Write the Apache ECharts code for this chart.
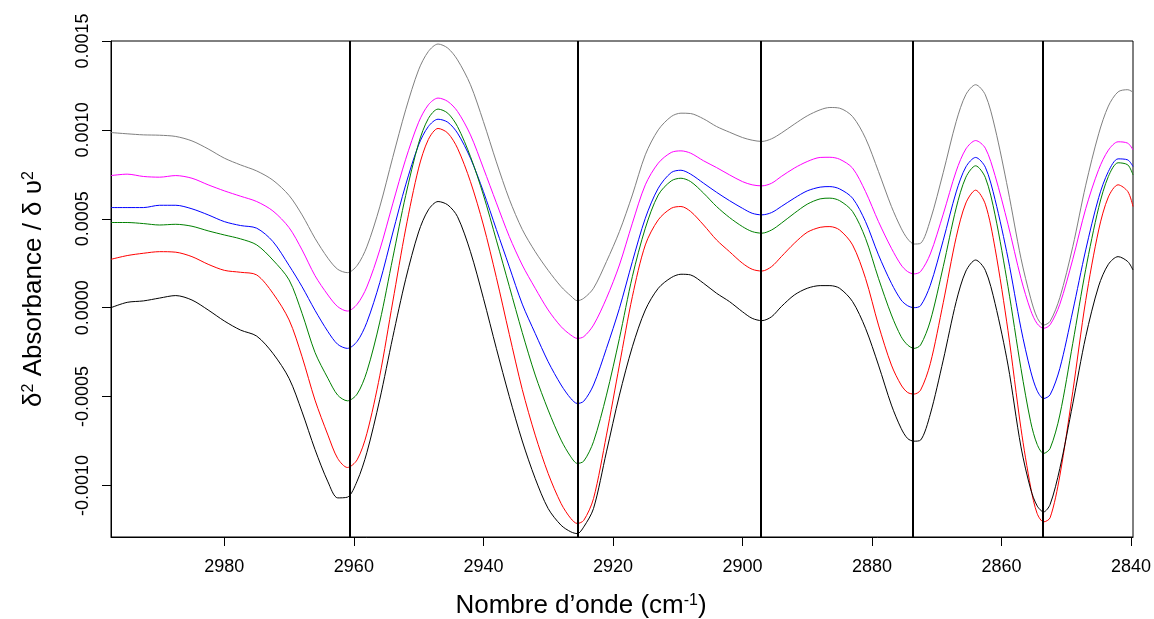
<!DOCTYPE html>
<html>
<head>
<meta charset="utf-8">
<script src="https://cdn.jsdelivr.net/npm/echarts@6/dist/echarts.min.js"></script>
<style>
  html, body { margin: 0; padding: 0; background: #fff; }
  #chart { width: 1154px; height: 619px; }
</style>
</head>
<body>
<div id="chart"></div>
<script>
// Wavenumbers (cm-1)
const wavenumbers = [
  2997.5, 2995, 2992.5, 2990, 2987.5, 2985, 2982.5, 2980, 2977.5, 2975, 2972.5, 2970, 2968, 2966,
  2964, 2962.5, 2961, 2959.5, 2958, 2956, 2954, 2952, 2950, 2948.5, 2947, 2945.5, 2944, 2942, 2940, 2938, 2936,
  2934, 2932, 2930, 2928, 2926.5, 2925.5, 2924.5, 2923, 2921, 2919, 2917, 2915, 2913, 2911, 2909.5, 2908, 2906, 2904,
  2902, 2900, 2898.5, 2897, 2895.5, 2894, 2892, 2890, 2888, 2886.5, 2885, 2883, 2881, 2879, 2877, 2875.5, 2874.5, 2873.5, 2872.5,
  2871, 2869, 2867, 2865.5, 2864, 2862.5, 2861, 2859, 2857, 2855.5, 2854.5, 2853.5, 2852.5, 2851, 2849, 2847, 2845, 2843.5, 2842, 2840.5, 2839.7
];

// Second-derivative values, in units of 1e-6
const VALUE_UNIT = 1e-6;
const grayValues = [
  985, 978, 972, 970, 963, 938, 893, 841, 803, 769, 717, 631, 522, 390,
  278, 216, 197, 237, 342, 567, 845, 1113, 1338, 1441, 1483, 1460, 1394, 1254, 1047, 820, 610,
  440, 315, 210, 118, 66, 39, 53, 109, 259, 428, 634, 860, 1000, 1075, 1094, 1092, 1062, 1019,
  987, 957, 942, 935, 950, 982, 1032, 1079, 1113, 1126, 1122, 1075, 953, 766, 569, 447, 387, 358, 362,
  492, 760, 1047, 1199, 1254, 1197, 1010, 663, 278, 53, -56, -98, -77, 56, 343, 689, 978, 1134, 1214, 1226, 1212
];
const magentaValues = [
  743, 751, 738, 734, 743, 728, 691, 657, 627, 597, 544, 450, 325, 180,
  71, 6, -19, 19, 116, 325, 584, 835, 1043, 1141, 1179, 1160, 1104, 972, 785, 590, 400,
  240, 109, -13, -107, -154, -173, -163, -98, 53, 240, 475, 691, 813, 873, 882, 869, 826, 788,
  747, 709, 691, 685, 700, 738, 785, 822, 845, 846, 835, 785, 653, 484, 334, 240, 203, 190, 203,
  302, 526, 768, 893, 940, 897, 743, 469, 165, -15, -90, -116, -96, 19, 272, 557, 777, 886, 933, 925, 888
];
const blueValues = [
  563, 563, 563, 576, 576, 556, 522, 484, 462, 447, 372, 237, 118, -15,
  -135, -206, -229, -190, -83, 141, 420, 691, 916, 1019, 1060, 1043, 982, 841, 653, 440, 230,
  20, -145, -304, -435, -511, -539, -526, -435, -229, -4, 259, 503, 672, 760, 773, 751, 700, 649,
  602, 559, 531, 522, 535, 569, 616, 657, 678, 681, 668, 616, 484, 297, 137, 43, 11, 0, 11,
  126, 379, 651, 792, 845, 790, 608, 278, -116, -357, -467, -511, -490, -342, -19, 325, 619, 766, 837, 831, 794
];
const greenValues = [
  479, 479, 473, 465, 469, 458, 432, 409, 387, 353, 268, 156, -32, -252,
  -398, -492, -524, -486, -360, -81, 278, 631, 925, 1064, 1117, 1094, 1019, 850, 634, 380, 120,
  -140, -379, -576, -745, -839, -876, -863, -754, -492, -173, 175, 447, 634, 713, 728, 709, 644, 569,
  507, 456, 428, 419, 437, 475, 531, 582, 612, 616, 602, 541, 390, 165, -41, -163, -210, -229, -210,
  -75, 231, 561, 734, 798, 732, 522, 118, -342, -642, -769, -820, -792, -604, -201, 216, 563, 738, 815, 803, 747
];
const redValues = [
  272, 293, 306, 315, 312, 287, 244, 210, 199, 184, 81, -69, -276, -520,
  -717, -848, -899, -856, -709, -383, 32, 443, 785, 946, 1008, 982, 897, 709, 465, 170, -150,
  -460, -717, -933, -1102, -1186, -1214, -1196, -1074, -717, -323, 62, 353, 494, 559, 569, 541, 465, 381,
  315, 250, 216, 206, 231, 287, 362, 424, 452, 456, 437, 353, 165, -98, -323, -435, -477, -486, -464,
  -315, 28, 396, 589, 661, 582, 334, -130, -679, -1010, -1158, -1205, -1182, -946, -473, 41, 437, 623, 691, 653, 569
];
const blackValues = [
  0, 30, 38, 54, 68, 43, -13, -75, -126, -160, -257, -398, -586, -798,
  -980, -1070, -1066, -976, -816, -516, -167, 160, 426, 550, 597, 578, 512, 315, 53, -229, -500,
  -750, -961, -1130, -1224, -1261, -1271, -1233, -1130, -811, -492, -220, -13, 109, 169, 188, 184, 137, 81,
  34, -23, -60, -73, -51, 6, 71, 109, 124, 124, 109, 34, -116, -323, -548, -679, -736, -751, -745,
  -599, -295, 34, 206, 268, 210, 24, -323, -783, -1021, -1115, -1149, -1107, -905, -541, -163, 122, 244, 287, 259, 212
];

// Vertical reference lines (cm-1)
const bandPositions = [2960.7, 2925.4, 2897.2, 2873.7, 2853.7];

// Axis ticks
const xTickValues = [2840, 2860, 2880, 2900, 2920, 2940, 2960, 2980];
const yTickValues = [-0.0010, -0.0005, 0.0000, 0.0005, 0.0010, 0.0015];

const seriesDefs = [
  { name: 'gray', color: '#808080', values: grayValues },
  { name: 'magenta', color: '#ff00ff', values: magentaValues },
  { name: 'blue', color: '#0000ff', values: blueValues },
  { name: 'green', color: '#008000', values: greenValues },
  { name: 'red', color: '#ff0000', values: redValues },
  { name: 'black', color: '#000000', values: blackValues }
];

const FONT = "'Liberation Sans', Arial, Helvetica, sans-serif";

const chart = echarts.init(document.getElementById('chart'), null, { renderer: 'canvas', width: 1154, height: 619 });

const series = seriesDefs.map(d => ({
  name: d.name,
  type: 'line',
  data: wavenumbers.map((w, i) => [w, d.values[i] * VALUE_UNIT]),
  showSymbol: false,
  smooth: 0.3,
  lineStyle: { color: d.color, width: 1 },
  itemStyle: { color: d.color },
  silent: true,
  z: 2
}));

series.push({
  name: 'bands',
  type: 'line',
  data: [],
  silent: true,
  z: 5,
  markLine: {
    silent: true,
    symbol: ['none', 'none'],
    label: { show: false },
    animation: false,
    lineStyle: { color: '#000', width: 2, type: 'solid' },
    data: bandPositions.map(v => ({ xAxis: v }))
  }
});

const option = {
  animation: false,
  backgroundColor: '#ffffff',
  grid: {
    left: 111, right: 21, top: 41, bottom: 82,
    containLabel: false,
    outerBoundsMode: 'none',
    show: true, borderColor: '#000', borderWidth: 1
  },
  xAxis: {
    type: 'value',
    inverse: true,
    min: 2839.7,
    max: 2997.5,
    axisLine: { show: true, onZero: false, lineStyle: { color: '#000', width: 1 } },
    axisTick: { show: true, length: 9, customValues: xTickValues, lineStyle: { color: '#000' } },
    axisLabel: {
      customValues: xTickValues, margin: 21, fontSize: 18, color: '#000', fontFamily: FONT,
      hideOverlap: false, formatter: v => String(v)
    },
    splitLine: { show: false },
    name: 'Nombre d’onde (cm{sup|-1})',
    nameLocation: 'middle',
    nameGap: 56,
    nameTextStyle: {
      fontSize: 26, color: '#000', fontFamily: FONT,
      padding: [0, 82, 0, 0],
      rich: { sup: { fontSize: 16, verticalAlign: 'top', lineHeight: 14, fontFamily: FONT, color: '#000' } }
    }
  },
  yAxis: {
    type: 'value',
    min: -0.00129,
    max: 0.0015,
    axisLine: { show: true, onZero: false, lineStyle: { color: '#000', width: 1 } },
    axisTick: { show: true, length: 9, customValues: yTickValues, lineStyle: { color: '#000' } },
    axisLabel: {
      customValues: yTickValues, rotate: 90, margin: 19, fontSize: 18, color: '#000', fontFamily: FONT,
      formatter: v => v.toFixed(4)
    },
    splitLine: { show: false },
    name: '{n|δ}{sup|2}{n| Absorbance / δ υ}{sup|2}',
    nameLocation: 'middle',
    nameGap: 64,
    nameRotate: 90,
    nameTextStyle: {
      fontSize: 26, color: '#000', fontFamily: FONT,
      rich: {
        n: { fontSize: 26, fontFamily: FONT, color: '#000' },
        sup: { fontSize: 16, verticalAlign: 'top', lineHeight: 14, fontFamily: FONT, color: '#000' }
      }
    }
  },
  series: series
};

chart.setOption(option);
</script>
</body>
</html>
